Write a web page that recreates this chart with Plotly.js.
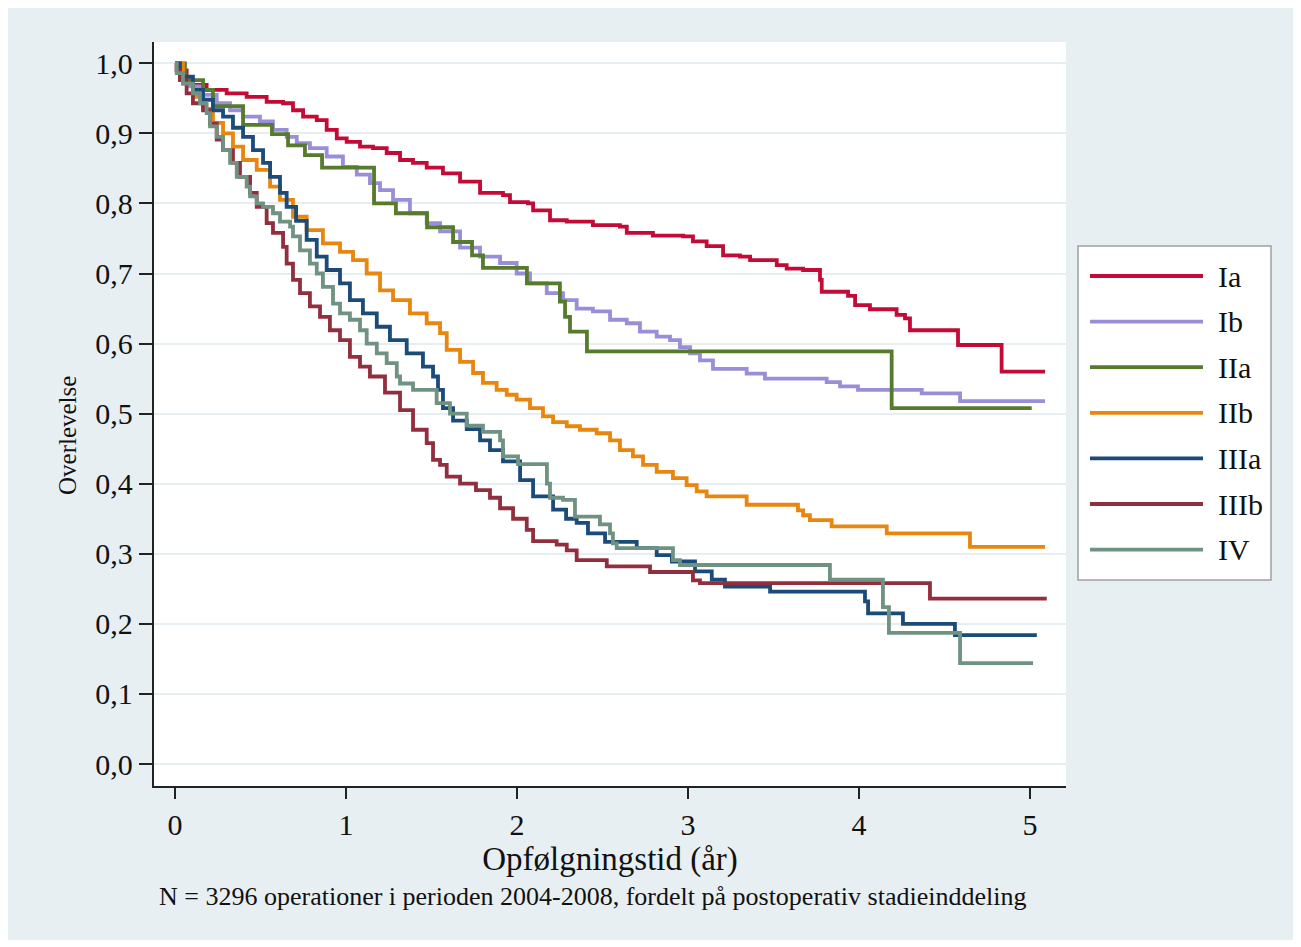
<!DOCTYPE html>
<html>
<head>
<meta charset="utf-8">
<script src="https://cdn.plot.ly/plotly-3.0.1.min.js"></script>
<style>
  html, body { margin: 0; padding: 0; background: #ffffff; }
  #chart { position: absolute; left: 8px; top: 8px; width: 1285px; height: 932px; }
</style>
</head>
<body>
<div id="chart"></div>
<script>
// ---------- data ----------
const stages = ['Ia', 'Ib', 'IIa', 'IIb', 'IIIa', 'IIIb', 'IV'];
const stageColors = ['#c40a37', '#998fd9', '#577b2c', '#e8860d', '#1b4b79', '#922f3e', '#6f9282'];

const tIa = [0, 0.01, 0.068, 0.105, 0.185, 0.302, 0.419, 0.536, 0.632, 0.690, 0.749, 0.829, 0.887, 0.946, 1.004, 1.082, 1.158, 1.238, 1.316, 1.392, 1.472, 1.567, 1.667, 1.784, 1.918, 1.959, 2.064, 2.094, 2.193, 2.291, 2.444, 2.602, 2.642, 2.795, 2.971, 3.029, 3.109, 3.205, 3.304, 3.363, 3.519, 3.577, 3.673, 3.772, 3.782, 3.936, 3.977, 4.064, 4.220, 4.269, 4.298, 4.579, 4.834, 5.088];
const sIa = [1.0, 0.99, 0.976, 0.969, 0.962, 0.957, 0.952, 0.945, 0.943, 0.933, 0.924, 0.919, 0.905, 0.893, 0.888, 0.881, 0.879, 0.872, 0.862, 0.858, 0.851, 0.843, 0.831, 0.815, 0.812, 0.802, 0.800, 0.790, 0.776, 0.774, 0.769, 0.767, 0.758, 0.754, 0.753, 0.746, 0.739, 0.726, 0.724, 0.719, 0.712, 0.707, 0.705, 0.691, 0.674, 0.668, 0.655, 0.649, 0.641, 0.636, 0.619, 0.598, 0.560, 0.560];

const tIb = [0, 0.029, 0.088, 0.164, 0.244, 0.322, 0.398, 0.497, 0.573, 0.653, 0.712, 0.789, 0.887, 0.982, 1.063, 1.140, 1.199, 1.275, 1.374, 1.472, 1.550, 1.667, 1.784, 1.901, 1.998, 2.076, 2.174, 2.269, 2.349, 2.444, 2.544, 2.642, 2.719, 2.817, 2.895, 2.953, 3.012, 3.070, 3.146, 3.343, 3.450, 3.811, 3.889, 3.994, 4.367, 4.591, 5.088];
const sIb = [1.0, 0.976, 0.967, 0.955, 0.943, 0.933, 0.924, 0.917, 0.905, 0.895, 0.886, 0.879, 0.867, 0.852, 0.841, 0.829, 0.819, 0.805, 0.786, 0.772, 0.760, 0.737, 0.724, 0.715, 0.700, 0.686, 0.672, 0.662, 0.650, 0.646, 0.634, 0.629, 0.617, 0.610, 0.605, 0.595, 0.586, 0.576, 0.564, 0.557, 0.550, 0.545, 0.539, 0.534, 0.529, 0.518, 0.518];

const tIIa = [0, 0.058, 0.164, 0.222, 0.398, 0.567, 0.661, 0.760, 0.860, 1.164, 1.292, 1.474, 1.626, 1.737, 1.801, 2.058, 2.251, 2.281, 2.310, 2.409, 4.191, 5.010];
const sIIa = [1.0, 0.976, 0.962, 0.939, 0.912, 0.899, 0.883, 0.869, 0.851, 0.800, 0.786, 0.766, 0.745, 0.726, 0.708, 0.686, 0.660, 0.638, 0.617, 0.589, 0.508, 0.508];

const tIIb = [0, 0.047, 0.105, 0.164, 0.222, 0.281, 0.339, 0.398, 0.478, 0.556, 0.614, 0.690, 0.770, 0.865, 0.965, 1.041, 1.121, 1.199, 1.275, 1.374, 1.472, 1.550, 1.589, 1.667, 1.743, 1.801, 1.881, 1.940, 1.998, 2.076, 2.152, 2.211, 2.291, 2.368, 2.466, 2.544, 2.602, 2.678, 2.737, 2.817, 2.912, 2.992, 3.051, 3.109, 3.343, 3.643, 3.673, 3.713, 3.840, 4.162, 4.649, 5.088];
const sIIb = [1.0, 0.971, 0.952, 0.935, 0.915, 0.900, 0.881, 0.862, 0.848, 0.824, 0.805, 0.781, 0.762, 0.743, 0.731, 0.719, 0.700, 0.676, 0.662, 0.643, 0.629, 0.615, 0.591, 0.574, 0.558, 0.544, 0.534, 0.527, 0.520, 0.508, 0.496, 0.488, 0.482, 0.477, 0.472, 0.462, 0.448, 0.439, 0.427, 0.417, 0.408, 0.398, 0.389, 0.382, 0.370, 0.362, 0.355, 0.348, 0.339, 0.329, 0.310, 0.310];

const tIIIa = [0, 0.029, 0.105, 0.164, 0.222, 0.281, 0.339, 0.398, 0.456, 0.515, 0.556, 0.614, 0.653, 0.708, 0.770, 0.829, 0.887, 0.965, 1.023, 1.099, 1.180, 1.257, 1.355, 1.450, 1.509, 1.538, 1.567, 1.626, 1.706, 1.784, 1.842, 1.918, 2.018, 2.094, 2.211, 2.287, 2.349, 2.415, 2.515, 2.700, 2.817, 2.906, 3.041, 3.139, 3.216, 3.480, 4.035, 4.053, 4.257, 4.561, 5.040];
const sIIIa = [1.0, 0.981, 0.962, 0.948, 0.933, 0.924, 0.908, 0.895, 0.876, 0.858, 0.838, 0.815, 0.795, 0.775, 0.748, 0.724, 0.705, 0.686, 0.662, 0.643, 0.624, 0.605, 0.586, 0.567, 0.553, 0.534, 0.508, 0.490, 0.478, 0.462, 0.448, 0.432, 0.405, 0.382, 0.363, 0.350, 0.344, 0.329, 0.317, 0.308, 0.298, 0.289, 0.275, 0.263, 0.253, 0.246, 0.232, 0.215, 0.200, 0.184, 0.184];

const tIIIb = [0, 0.01, 0.029, 0.068, 0.105, 0.164, 0.205, 0.244, 0.281, 0.339, 0.380, 0.439, 0.478, 0.536, 0.573, 0.632, 0.653, 0.690, 0.731, 0.789, 0.848, 0.906, 0.965, 1.023, 1.082, 1.140, 1.228, 1.316, 1.392, 1.472, 1.509, 1.550, 1.589, 1.667, 1.760, 1.842, 1.901, 1.977, 2.057, 2.094, 2.232, 2.291, 2.349, 2.525, 2.778, 3.029, 3.070, 4.415, 5.098];
const sIIIb = [1.0, 0.990, 0.976, 0.957, 0.943, 0.933, 0.914, 0.891, 0.876, 0.858, 0.838, 0.815, 0.795, 0.772, 0.758, 0.738, 0.714, 0.691, 0.672, 0.653, 0.638, 0.619, 0.605, 0.581, 0.567, 0.553, 0.530, 0.505, 0.477, 0.458, 0.434, 0.427, 0.410, 0.400, 0.391, 0.380, 0.365, 0.350, 0.334, 0.318, 0.313, 0.305, 0.291, 0.282, 0.274, 0.262, 0.258, 0.236, 0.236];

const tIV = [0, 0.01, 0.047, 0.105, 0.146, 0.185, 0.205, 0.244, 0.281, 0.322, 0.361, 0.419, 0.439, 0.478, 0.515, 0.573, 0.614, 0.673, 0.690, 0.731, 0.789, 0.829, 0.865, 0.924, 0.965, 1.023, 1.082, 1.121, 1.180, 1.238, 1.297, 1.316, 1.392, 1.530, 1.608, 1.706, 1.801, 1.901, 1.918, 2.006, 2.175, 2.193, 2.269, 2.339, 2.485, 2.544, 2.561, 2.583, 2.912, 2.953, 3.830, 4.140, 4.175, 4.591, 5.018];
const sIV = [1.0, 0.986, 0.971, 0.957, 0.943, 0.929, 0.910, 0.895, 0.876, 0.858, 0.838, 0.824, 0.810, 0.800, 0.795, 0.786, 0.774, 0.767, 0.753, 0.733, 0.714, 0.700, 0.681, 0.657, 0.643, 0.634, 0.619, 0.600, 0.586, 0.572, 0.553, 0.543, 0.534, 0.515, 0.500, 0.483, 0.474, 0.462, 0.439, 0.428, 0.400, 0.380, 0.377, 0.353, 0.342, 0.329, 0.315, 0.308, 0.291, 0.284, 0.263, 0.224, 0.187, 0.144, 0.144];

const yTickVals = [0, 0.1, 0.2, 0.3, 0.4, 0.5, 0.6, 0.7, 0.8, 0.9, 1.0];
const yTickText = ['0,0', '0,1', '0,2', '0,3', '0,4', '0,5', '0,6', '0,7', '0,8', '0,9', '1,0'];
const xTickVals = [0, 1, 2, 3, 4, 5];
const xTickText = ['0', '1', '2', '3', '4', '5'];

const xTitle = 'Opfølgningstid (år)';
const yTitle = 'Overlevelse';
const caption = 'N = 3296 operationer i perioden 2004-2008, fordelt på postoperativ stadieinddeling';

// ---------- build ----------
const times = [tIa, tIb, tIIa, tIIb, tIIIa, tIIIb, tIV];
const surv = [sIa, sIb, sIIa, sIIb, sIIIa, sIIIb, sIV];

const FONT = '"Liberation Serif", "Times New Roman", serif';

const traces = stages.map((name, i) => ({
  type: 'scatter',
  mode: 'lines',
  name: name,
  x: times[i],
  y: surv[i],
  line: { color: stageColors[i], width: 3.8, shape: 'hv' },
  showlegend: false,
  hoverinfo: 'x+y+name'
}));

// plot area in div pixels
const W = 1285, H = 932;
const M = { l: 146, r: 227, t: 34, b: 154 };
const PW = W - M.l - M.r, PH = H - M.t - M.b;
// convert page pixels (div offset 8) to paper coords
const px = X => (X - 8 - M.l) / PW;
const py = Y => (H - M.b - (Y - 8)) / PH;

const shapes = [];
const annotations = [];

// legend box
shapes.push({
  type: 'rect', xref: 'paper', yref: 'paper',
  x0: px(1078), x1: px(1271), y0: py(580), y1: py(246),
  fillcolor: '#ffffff', line: { color: '#a0a0a0', width: 1.5 }, layer: 'above'
});
stages.forEach((name, i) => {
  const Y = 276 + i * 45.6;
  shapes.push({
    type: 'line', xref: 'paper', yref: 'paper',
    x0: px(1090), x1: px(1203), y0: py(Y), y1: py(Y),
    line: { color: stageColors[i], width: 3.8 }, layer: 'above'
  });
  annotations.push({
    xref: 'paper', yref: 'paper', x: px(1216), y: py(Y),
    xanchor: 'left', yanchor: 'middle', showarrow: false,
    text: name, font: { family: FONT, size: 30, color: '#111' }
  });
});

// y-axis title
annotations.push({
  xref: 'paper', yref: 'paper', x: px(67), y: py(436),
  xanchor: 'center', yanchor: 'middle', showarrow: false, textangle: -90,
  text: yTitle, font: { family: FONT, size: 25, color: '#111' }
});

// caption
annotations.push({
  xref: 'paper', yref: 'paper', x: px(592), y: py(896),
  xanchor: 'center', yanchor: 'middle', showarrow: false,
  text: caption, font: { family: FONT, size: 26, color: '#111' }
});

const layout = {
  width: W, height: H,
  margin: M,
  paper_bgcolor: '#e8eff2',
  plot_bgcolor: '#ffffff',
  font: { family: FONT, color: '#111' },
  showlegend: false,
  xaxis: {
    range: [-0.1228, 5.2105],
    tickvals: xTickVals, ticktext: xTickText,
    ticks: 'outside', ticklen: 11, tickwidth: 2, tickcolor: '#222',
    showline: true, linecolor: '#222', linewidth: 2.2,
    showgrid: false, zeroline: false,
    tickfont: { family: FONT, size: 30, color: '#111' },
    title: { text: xTitle, font: { family: FONT, size: 33, color: '#111' }, standoff: 0 }
  },
  yaxis: {
    range: [-0.0314, 1.0304],
    tickvals: yTickVals, ticktext: yTickText,
    ticks: 'outside', ticklen: 13, tickwidth: 2, tickcolor: '#222',
    showline: true, linecolor: '#222', linewidth: 2.2,
    showgrid: true, gridcolor: '#e6eef1', gridwidth: 2,
    zeroline: false,
    tickfont: { family: FONT, size: 30, color: '#111' }
  },
  shapes: shapes,
  annotations: annotations
};

Plotly.newPlot('chart', traces, layout, { displayModeBar: false, staticPlot: true });
</script>
</body>
</html>
